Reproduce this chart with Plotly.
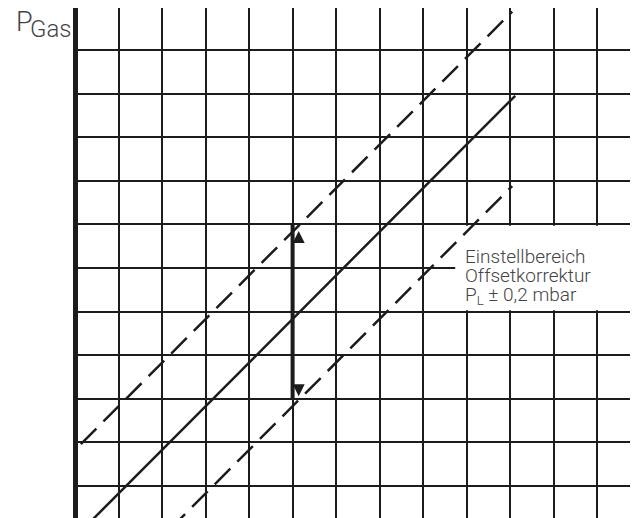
import plotly.graph_objects as go

# diagonal lines, in grid units (one unit = one grid cell)
mid_x = [0.17, 10.12]
mid_y = [0.0, 9.95]
upper_x = [0.13, 10.05]
upper_y = [1.96, 11.88]
lower_x = [2.17, 10.05]
lower_y = [0.0, 7.88]

# adjustment arrow
arrow_x = [5.0, 5.0]
arrow_y = [3.0, 7.0]
head_x = [5.14, 5.14]
head_y = [6.85, 3.06]
head_symbols = ["arrow-up", "arrow-down"]

label_lines = ["Einstellbereich", "Offsetkorrektur", "P<sub>L</sub> ± 0,2 mbar"]
label_y = [6.27, 5.82, 5.36]

ink = "#1c1c1c"
text_col = "#454545"
font_name = "Roboto"

fig = go.Figure()

fig.add_trace(go.Scatter(x=mid_x, y=mid_y, mode="lines",
                         line=dict(color=ink, width=2.5)))
fig.add_trace(go.Scatter(x=upper_x, y=upper_y, mode="lines",
                         line=dict(color=ink, width=2.5, dash="22px,10px")))
fig.add_trace(go.Scatter(x=lower_x, y=lower_y, mode="lines",
                         line=dict(color=ink, width=2.5, dash="22px,10px")))
fig.add_trace(go.Scatter(x=arrow_x, y=arrow_y, mode="lines",
                         line=dict(color=ink, width=4)))
fig.add_trace(go.Scatter(x=head_x, y=head_y, mode="markers",
                         marker=dict(symbol=head_symbols, size=12, color=ink,
                                     line=dict(width=0))))

# blank patch behind the label, hides the grid there
fig.add_shape(type="rect", x0=8.74, x1=13.5, y0=5.03, y1=6.97,
              fillcolor="white", line=dict(width=0), layer="between")

for txt, yy in zip(label_lines, label_y):
    fig.add_annotation(x=8.92, y=yy, text=txt, showarrow=False,
                       xanchor="left", yanchor="middle",
                       font=dict(family=font_name, size=19, color=text_col, weight=300))

# axis name left of the thick axis (paper coords, outside the plot area)
fig.add_annotation(xref="paper", yref="paper", x=-0.104, y=0.972, text="P",
                   showarrow=False, xanchor="left", yanchor="middle",
                   font=dict(family=font_name, size=27, color=text_col, weight=300))
fig.add_annotation(xref="paper", yref="paper", x=-0.079, y=0.958, text="Gas",
                   showarrow=False, xanchor="left", yanchor="middle",
                   font=dict(family=font_name, size=24, color=text_col, weight=300))

fig.update_xaxes(range=[-0.05, 12.943], dtick=1, tick0=0,
                 showgrid=True, gridcolor=ink, gridwidth=2,
                 zeroline=True, zerolinecolor=ink, zerolinewidth=5,
                 showticklabels=False, ticks="", showline=False)
fig.update_yaxes(range=[0.266, 11.963], dtick=1, tick0=0,
                 showgrid=True, gridcolor=ink, gridwidth=2,
                 zeroline=False, showticklabels=False, ticks="", showline=False)

# page body adds an 8px offset, so the figure is 8px smaller
fig.update_layout(width=630, height=510,
                  margin=dict(l=65, r=0, t=0, b=0),
                  plot_bgcolor="white", paper_bgcolor="white",
                  showlegend=False)

fig.write_html("out.html")
